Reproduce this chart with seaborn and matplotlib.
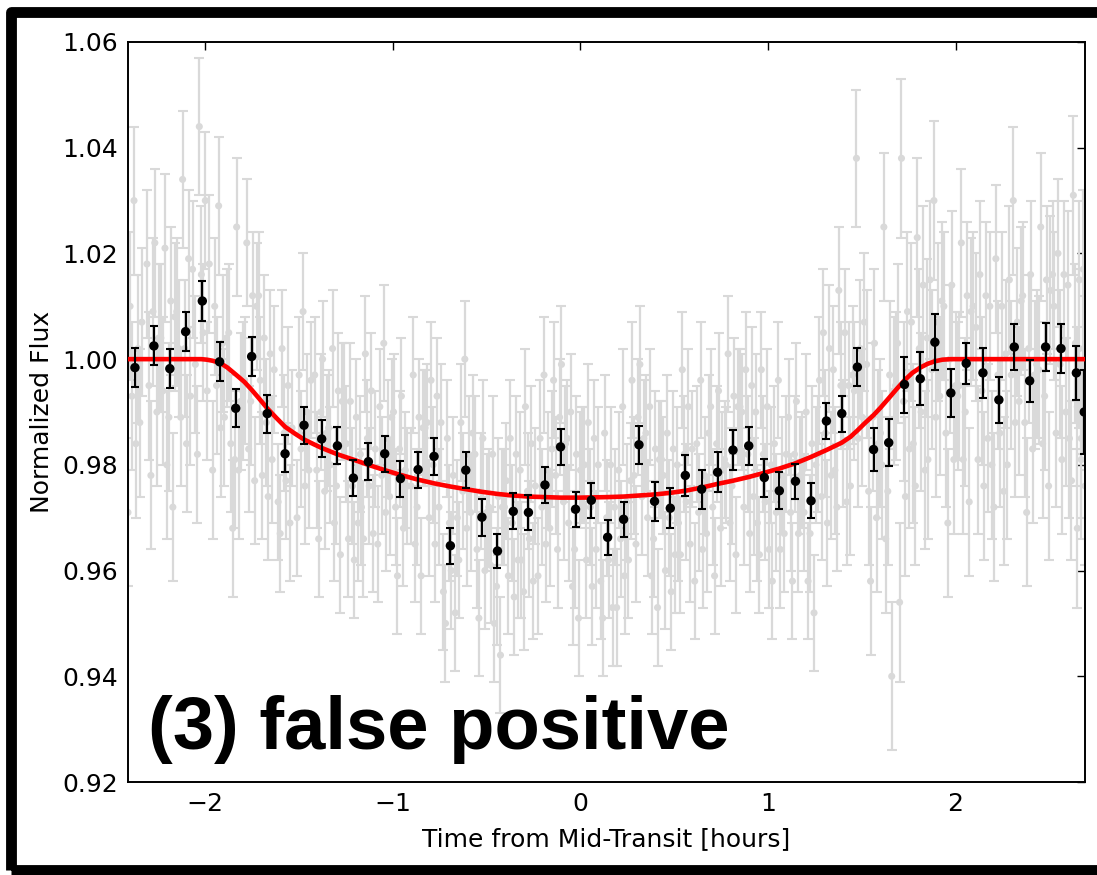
import numpy as np
import pandas as pd
import matplotlib
matplotlib.use('Agg')
import matplotlib.pyplot as plt
import seaborn as sns
from matplotlib.patches import Rectangle

# binned light curve (black points)
bin_time = [-2.373, -2.272, -2.187, -2.103, -2.014, -1.922, -1.836, -1.751, -1.668, -1.573,
            -1.472, -1.378, -1.294, -1.209, -1.129, -1.042, -0.958, -0.864, -0.779, -0.692,
            -0.610, -0.524, -0.441, -0.357, -0.276, -0.188, -0.105, -0.025, 0.059, 0.146,
            0.231, 0.313, 0.396, 0.480, 0.560, 0.647, 0.732, 0.814, 0.898, 0.981,
            1.061, 1.147, 1.230, 1.312, 1.394, 1.477, 1.563, 1.644, 1.728, 1.812,
            1.890, 1.975, 2.057, 2.146, 2.231, 2.313, 2.395, 2.480, 2.562, 2.644, 2.686]
bin_flux = [0.9984, 1.0025, 0.9982, 1.0052, 1.0110, 0.9995, 0.9907, 1.0005, 0.9897, 0.9821,
            0.9875, 0.9849, 0.9836, 0.9775, 0.9806, 0.9821, 0.9774, 0.9791, 0.9816, 0.9647,
            0.9790, 0.9701, 0.9637, 0.9712, 0.9710, 0.9762, 0.9834, 0.9716, 0.9733, 0.9663,
            0.9697, 0.9838, 0.9731, 0.9718, 0.9780, 0.9754, 0.9786, 0.9828, 0.9836, 0.9776,
            0.9751, 0.9769, 0.9732, 0.9883, 0.9897, 0.9985, 0.9829, 0.9842, 0.9952, 0.9963,
            1.0032, 0.9936, 0.9992, 0.9974, 0.9923, 1.0023, 0.9959, 1.0023, 1.0020, 0.9974, 0.9900]
bin_err = [0.0037, 0.0037, 0.0037, 0.0037, 0.0038, 0.0037, 0.0036, 0.0037, 0.0036, 0.0035,
           0.0035, 0.0035, 0.0035, 0.0034, 0.0035, 0.0034, 0.0034, 0.0034, 0.0035, 0.0034,
           0.0034, 0.0035, 0.0033, 0.0034, 0.0033, 0.0034, 0.0034, 0.0033, 0.0033, 0.0033,
           0.0033, 0.0036, 0.0037, 0.0038, 0.0039, 0.0037, 0.0038, 0.0037, 0.0036, 0.0036,
           0.0035, 0.0033, 0.0033, 0.0034, 0.0034, 0.0036, 0.0040, 0.0044, 0.0053, 0.0050,
           0.0053, 0.0046, 0.0039, 0.0047, 0.0043, 0.0044, 0.0040, 0.0046, 0.0046, 0.0051, 0.0080]

# unbinned exposures (grey), flux - 1 in parts per thousand, 8 per bin
cadence_offsets = [-0.037, -0.026, -0.016, -0.005, 0.005, 0.016, 0.026, 0.037]
gray_ppt = [
    [-29, 10, -7, 30, -16, 2, -12, 7], [18, -5, -22, 9, 22, -10, 4, 4],
    [-6, 21, -20, -11, 11, -28, 8, 9], [2, -11, 34, 2, -16, 19, -7, 17],
    [-1, -18, 44, 16, 5, 30, -6, 18], [-21, 10, -5, 29, -13, 3, -11, 4],
    [5, -16, -32, -19, 25, -21, -8, -6], [-4, 22, -17, -8, 12, -23, 10, 12],
    [-4, -22, 4, -12, -26, 1, -19, -2], [-27, -33, 2, -14, -23, -5, -31, -13],
    [-30, -3, -17, 9, -24, -10, -21, -4], [-3, -21, -34, -10, 0, -25, -14, -13],
    [-20, 2, -31, -24, -6, -37, -8, -8], [-16, -34, -8, -24, -38, -11, -31, -18],
    [-28, -34, 1, -15, -24, -6, -33, -17], [-35, -9, -22, 3, -29, -15, -26, -11],
    [-10, -28, -41, -17, -7, -32, -21, -24], [-24, -3, -35, -28, -11, -41, -13, -13],
    [-12, -30, -4, -20, -35, -7, -28, -12], [-44, -50, -15, -31, -40, -22, -48, -30],
    [-38, -12, -25, 0, -32, -18, -29, -14], [-18, -36, -49, -25, -15, -40, -29, -28],
    [-39, -18, -50, -43, -26, -56, -28, -28], [-23, -41, -15, -31, -45, -18, -38, -21],
    [-38, -44, -9, -25, -34, -16, -42, -24], [-41, -15, -28, -3, -35, -21, -32, -17],
    [-4, -22, -36, -11, -1, -27, -16, -15], [-31, -10, -43, -36, -18, -49, -21, -20],
    [-20, -38, -12, -28, -43, -15, -36, -20], [-42, -49, -14, -30, -38, -20, -47, -28],
    [-47, -21, -34, -9, -41, -27, -38, -23], [-4, -22, -35, -11, -1, -26, -15, -14],
    [-30, -9, -41, -34, -17, -47, -19, -19], [-22, -40, -14, -30, -44, -17, -37, -20],
    [-31, -37, -2, -18, -27, -9, -35, -17], [-42, -16, -29, -4, -36, -22, -33, -14],
    [-9, -28, -41, -16, -6, -32, -21, -19], [-20, 1, -31, -24, -7, -37, -9, -9],
    [-10, -28, -2, -18, -33, -5, -26, -10], [-31, -37, -2, -18, -27, -9, -36, -20],
    [-42, -16, -29, -4, -36, -22, -33, -18], [-11, -29, -42, -18, -8, -33, -22, -21],
    [-29, -10, -42, -33, -16, -48, -20, -18], [-4, -26, 5, -14, -31, 2, -22, -2],
    [-21, -28, 13, -5, -16, 5, -27, -5], [-24, -3, -6, 38, -15, 2, -11, 7],
    [-1, -25, -42, -11, 3, -30, -16, -14], [-20, 25, -34, -25, -3, -60, -6, -5],
    [3, -46, 38, -8, -26, 9, -17, 7], [-16, -24, 23, 2, -10, 14, -21, 4],
    [-19, 15, -2, 30, -11, 7, -7, 11], [10, -14, -31, 0, 14, -19, -5, -7],
    [-5, 22, -19, -10, 12, -27, 9, 10], [6, -19, 16, -6, -24, 12, -15, 10],
    [-20, -28, 19, -3, -14, 10, -25, 1], [-20, 15, -3, 30, -12, 7, -8, 11],
    [12, -12, -29, 2, 16, -17, -3, -1], [-2, 25, -16, -7, 15, -24, 13, 16],
    [10, -14, 20, -1, -19, 16, -10, 14], [-15, -23, 31, 3, -9, 15, -19, -3],
    [-32, 2, -15, 17, -24, -6, -20, -2],
]
gray_err_ppt = [14, 14, 14, 13, 13, 13, 13, 12, 12, 11,
                11, 11, 11, 11, 11, 11, 11, 11, 11, 11,
                11, 11, 11, 11, 11, 11, 11, 11, 11, 11,
                11, 11, 11, 11, 11, 11, 11, 11, 11, 11,
                11, 11, 11, 12, 12, 13, 14, 14, 15, 15,
                15, 14, 14, 14, 14, 14, 14, 14, 14, 15, 15]

# transit model (red)
model_time = [-2.45, -2.02, -1.99, -1.96, -1.92, -1.88, -1.836, -1.79, -1.751, -1.71,
              -1.668, -1.62, -1.573, -1.52, -1.472, -1.42, -1.378, -1.294, -1.21, -1.129,
              -1.042, -0.958, -0.864, -0.779, -0.692, -0.610, -0.524, -0.441, -0.357, -0.276,
              -0.188, -0.105, 0.0, 0.146, 0.231, 0.313, 0.396, 0.480, 0.560, 0.647,
              0.732, 0.814, 0.898, 0.981, 1.061, 1.147, 1.230, 1.312, 1.394, 1.44,
              1.477, 1.52, 1.563, 1.60, 1.644, 1.69, 1.728, 1.77, 1.812, 1.85,
              1.890, 1.93, 1.975, 2.75]
model_flux = [1.0000, 1.0000, 0.9999, 0.9997, 0.9993, 0.9984, 0.9971, 0.9957, 0.9942, 0.9925,
              0.9907, 0.9889, 0.9872, 0.9859, 0.9848, 0.9839, 0.9832, 0.9820, 0.9810, 0.9800,
              0.9790, 0.9781, 0.9772, 0.9765, 0.9759, 0.9754, 0.9749, 0.9745, 0.9742, 0.9740,
              0.9739, 0.9738, 0.9738, 0.9739, 0.9740, 0.9742, 0.9744, 0.9747, 0.9751, 0.9757,
              0.9764, 0.9770, 0.9777, 0.9785, 0.9793, 0.9803, 0.9815, 0.9828, 0.9842, 0.9853,
              0.9865, 0.9880, 0.9894, 0.9908, 0.9926, 0.9945, 0.9960, 0.9974, 0.9984, 0.9991,
              0.9996, 0.9999, 1.0000, 1.0000]

gray = pd.DataFrame({
    'time': (np.array(bin_time)[:, None] + np.array(cadence_offsets)[None, :]).ravel(),
    'flux': 1 + np.array(gray_ppt).ravel() / 1000.0,
    'err': np.repeat(np.array(gray_err_ppt) / 1000.0, len(cadence_offsets)),
})
binned = pd.DataFrame({'time': bin_time, 'flux': bin_flux, 'err': bin_err})
model = pd.DataFrame({'time': model_time, 'flux': model_flux})

sns.set_theme(style='white')
plt.rcParams['font.family'] = ['DejaVu Sans']
plt.rcParams['text.color'] = 'black'
plt.rcParams['axes.labelcolor'] = 'black'

fig = plt.figure(figsize=(10.97, 8.75), dpi=100)
ax = fig.add_axes([128 / 1097, 1 - 782 / 875, (1085 - 128) / 1097, (782 - 42) / 875])

grey = '#d9d9d9'
ax.errorbar(gray['time'], gray['flux'], yerr=gray['err'], fmt='none', ecolor=grey,
            elinewidth=1.6, capsize=3.6, capthick=1.5, zorder=1)
sns.scatterplot(data=gray, x='time', y='flux', color=grey, s=26, edgecolor='none',
                ax=ax, zorder=1.5)
sns.lineplot(data=model, x='time', y='flux', color='red', lw=3.3, sort=False,
             estimator=None, ax=ax, zorder=3)
ax.errorbar(binned['time'], binned['flux'], yerr=binned['err'], fmt='none', ecolor='black',
            elinewidth=1.6, capsize=3.2, capthick=1.5, zorder=4)
sns.scatterplot(data=binned, x='time', y='flux', color='black', s=46, edgecolor='none',
                ax=ax, zorder=5)

ax.set_xlim(-2.41, 2.69)
ax.set_ylim(0.92, 1.06)
ax.set_xticks([-2, -1, 0, 1, 2])
ax.set_yticks(np.arange(0.92, 1.0601, 0.02))
ax.yaxis.set_major_formatter(matplotlib.ticker.FormatStrFormatter('%.2f'))
ax.tick_params(direction='in', top=True, right=True, length=6, width=1,
               labelsize=18, pad=7, colors='black')
for s in ax.spines.values():
    s.set_linewidth(1.4)
    s.set_color('black')
ax.set_xlabel('Time from Mid-Transit [hours]', fontsize=18, labelpad=8)
ax.set_ylabel('Normalized Flux', fontsize=18, labelpad=6)

ax.text(-2.304, 0.9262, '(3) false positive', fontsize=53.5, fontweight='bold', color='black',
        family=['Liberation Sans', 'DejaVu Sans'], va='baseline', ha='left', zorder=6)

fig.patches.append(Rectangle((10.5 / 1097, 5 / 875), 1.1, 858 / 875,
                             transform=fig.transFigure, fill=False, edgecolor='black',
                             linewidth=7.8, joinstyle='round'))

fig.savefig('out.png', dpi=100, facecolor='white')
